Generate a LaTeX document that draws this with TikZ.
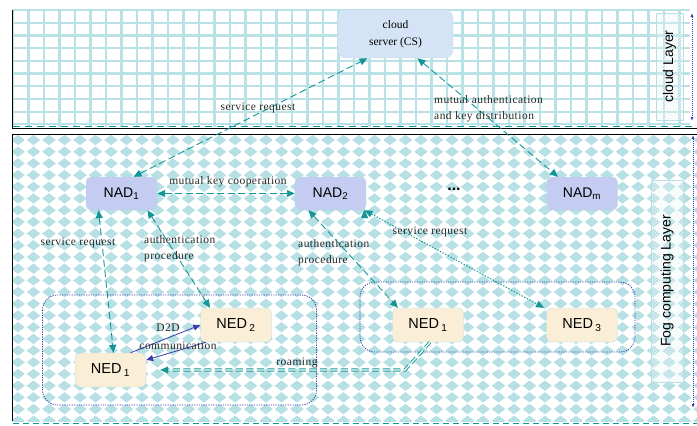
\documentclass[tikz,border=0pt]{standalone}
\usepackage{fontspec}
\setmainfont{Liberation Serif}
\setsansfont{Liberation Sans}
\newfontfamily\lblfont[LetterSpace=4]{Liberation Serif}
\newfontfamily\layfont{Liberation Sans}
\usetikzlibrary{calc, arrows.meta, patterns}

\definecolor{arrteal}{RGB}{20,150,150}
\definecolor{gridteal}{RGB}{185,226,230}
\definecolor{diateal}{RGB}{182,224,228}
\definecolor{dotnavy}{RGB}{60,60,170}
\definecolor{csblue}{RGB}{212,228,246}
\definecolor{nadlav}{RGB}{196,204,242}
\definecolor{nedcream}{RGB}{250,239,214}
\definecolor{boxedge}{RGB}{186,222,226}
\definecolor{lbltext}{RGB}{40,40,40}

\tikzset{
  tri/.tip={Triangle[length=8pt, width=7pt, color=arrteal]},
  smalltri/.tip={Triangle[length=7pt, width=6pt, color=dotnavy]},
  lbl/.style={font=\lblfont\fontsize{11.5}{16}\selectfont, text=lbltext, inner sep=1pt},
  nad/.style={rounded corners=5pt, fill=nadlav, draw=boxedge, minimum width=71pt, minimum height=33pt,
    font=\sffamily\fontsize{14}{14}\selectfont},
  ned/.style={rounded corners=5pt, fill=nedcream, draw=boxedge, minimum width=71pt, minimum height=34pt,
    font=\sffamily\fontsize{14.5}{14}\selectfont},
  laybox/.style={draw=boxedge, fill=white, pattern=north east lines, pattern color=boxedge!30,
    rotate=90, font=\layfont\fontsize{14}{14}\selectfont},
  grpbox/.style={draw=dotnavy, line width=0.8pt, dash pattern=on 1.2pt off 1.2pt, rounded corners=15pt},
  tealln/.style={draw=arrteal, double=white, double distance=1.3pt, line width=0.9pt, dash pattern=on 7pt off 3.5pt},
  tealdot/.style={draw=arrteal, double=white, double distance=1.3pt, line width=0.9pt, dash pattern=on 1.5pt off 1.5pt},
  d2dln/.style={draw=dotnavy, double=white, double distance=1pt, line width=0.8pt},
  layarr/.style={draw=dotnavy, line width=1pt, dash pattern=on 1pt off 1pt, {Latex[length=4pt]}-{Latex[length=4pt]}}
}

\begin{document}
\begin{tikzpicture}[x=1pt, y=-1pt]
  \useasboundingbox (0,0) rectangle (697,426);

  % cloud layer background
  \foreach \k in {0,...,43}
    \draw[gridteal, line width=2.2pt] ({13+15.5*\k},10) -- ({13+15.5*\k},127);
  \foreach \k in {0,...,9}
    \draw[gridteal, line width=2.2pt] (13,{10+12.7*\k}) -- (690,{10+12.7*\k});

  % fog layer background
  \begin{scope}
    \clip (13,134) rectangle (697,421);
    \fill[diateal] foreach \i in {0,...,44} { foreach \j in {0,...,24} {
      ({18+15.5*\i},{140+11.7*\j}) ++(-6.8,0) -- ++(6.8,-5.2) -- ++(6.8,5.2) -- ++(-6.8,5.2) -- cycle } };
  \end{scope}

  % layer frames
  \draw[black, line width=0.8pt] (12.7,10) -- (12.7,128) -- (697,128);
  \draw[arrteal, line width=1.3pt, dash pattern=on 7pt off 5pt] (13,126.5) -- (697,126.5);
  \draw[black, line width=0.8pt] (697,134) -- (12.7,134) -- (12.7,421);
  \draw[arrteal, line width=1pt, dash pattern=on 6pt off 4pt] (13,423) -- (697,423);

  % layer labels
  \draw (669.5,66.5) node[laybox, minimum width=107pt, minimum height=27pt](cloudlbl){cloud Layer};
  \draw (667,281) node[laybox, minimum width=202pt, minimum height=32pt](foglbl){Fog computing Layer};
  \coordinate (cltop) at (692,13);
  \coordinate (clbot) at (692,121);
  \coordinate (fgtop) at (693,135);
  \coordinate (fgbot) at (693,408);
  \draw[layarr] (cltop) -- (clbot);
  \draw[layarr] (fgtop) -- (fgbot);

  % NED groups
  \draw[grpbox] (42.5,295) rectangle (316.5,405);
  \draw[grpbox] (360,282) rectangle (635,352);

  % nodes
  \draw (395.5,34) node[rounded corners=8pt, fill=csblue, draw=csblue!80!boxedge, minimum width=115pt,
    minimum height=48pt, align=center, font=\fontsize{11.5}{17}\selectfont](CS){cloud\\server (CS)};
  \draw (121.5,193.5) node[nad](NAD1){NAD\textsubscript{1}};
  \draw (330.5,193.5) node[nad](NAD2){NAD\textsubscript{2}};
  \draw (582,193.5) node[nad](NADm){NAD\textsubscript{m}};
  \draw (454,189) node[font=\sffamily\bfseries\fontsize{16}{16}\selectfont](dts){...};
  \draw (236,325) node[ned](NED2){NED\,\textsubscript{2}};
  \draw (110.5,370) node[ned](NED1L){NED\,\textsubscript{1}};
  \draw (428,325) node[ned](NED1R){NED\,\textsubscript{1}};
  \draw (582,325) node[ned](NED3){NED\,\textsubscript{3}};

  % connectors
  \begin{scope}[tealln]
    \path[tri-tri] ([xshift=12pt]NAD1.north) edge ([xshift=-28pt]CS.south);
    \path[tri-tri] ([xshift=22pt]CS.south) edge ([xshift=-24pt]NADm.north);
    \path[tri-tri] (NAD1.east) edge (NAD2.west);
    \path[tri-tri] ([xshift=-23pt]NAD1.south) edge ([xshift=3pt]NED1L.north);
    \path[tri-tri] ([xshift=26pt]NAD1.south) edge ([xshift=-26pt]NED2.north);
    \path[tri-tri] ([xshift=-22pt]NAD2.south) edge ([xshift=-30pt]NED1R.north);
  \end{scope}
  \path[tealdot, tri-tri] ([xshift=34pt]NAD2.south) edge ([xshift=-38pt]NED3.north);
  \coordinate (rmbend) at (405,370);
  \draw[tealln, -tri, shorten >=14pt] ([xshift=2pt]NED1R.south) -- (rmbend) -- (NED1L.east);
  \begin{scope}[d2dln]
    \path[-smalltri] ([xshift=20pt]NED1L.north) edge (NED2.west);
    \path[-smalltri] ([xshift=-30pt]NED2.south) edge ([yshift=10pt]NED1L.east);
  \end{scope}

  % labels
  \draw (258,108) node[lbl](lsrcs){service request};
  \draw (433,108.5) node[lbl, anchor=west, align=left](lmutual){mutual authentication\\and key distribution};
  \draw (228,182) node[lbl](lkeyco){mutual key cooperation};
  \draw (78,243) node[lbl](lsrned){service request};
  \draw (143,248.5) node[lbl, anchor=west, align=left](lauth1){authentication\\procedure};
  \draw (297,253) node[lbl, anchor=west, align=left](lauth2){authentication\\procedure};
  \draw (430,232) node[lbl](lsrned3){service request};
  \draw (168,328) node[lbl](ld2d){D2D};
  \draw (178,346) node[lbl](lcomm){communication};
  \draw (297,363) node[lbl](lroam){roaming};
\end{tikzpicture}
\end{document}
